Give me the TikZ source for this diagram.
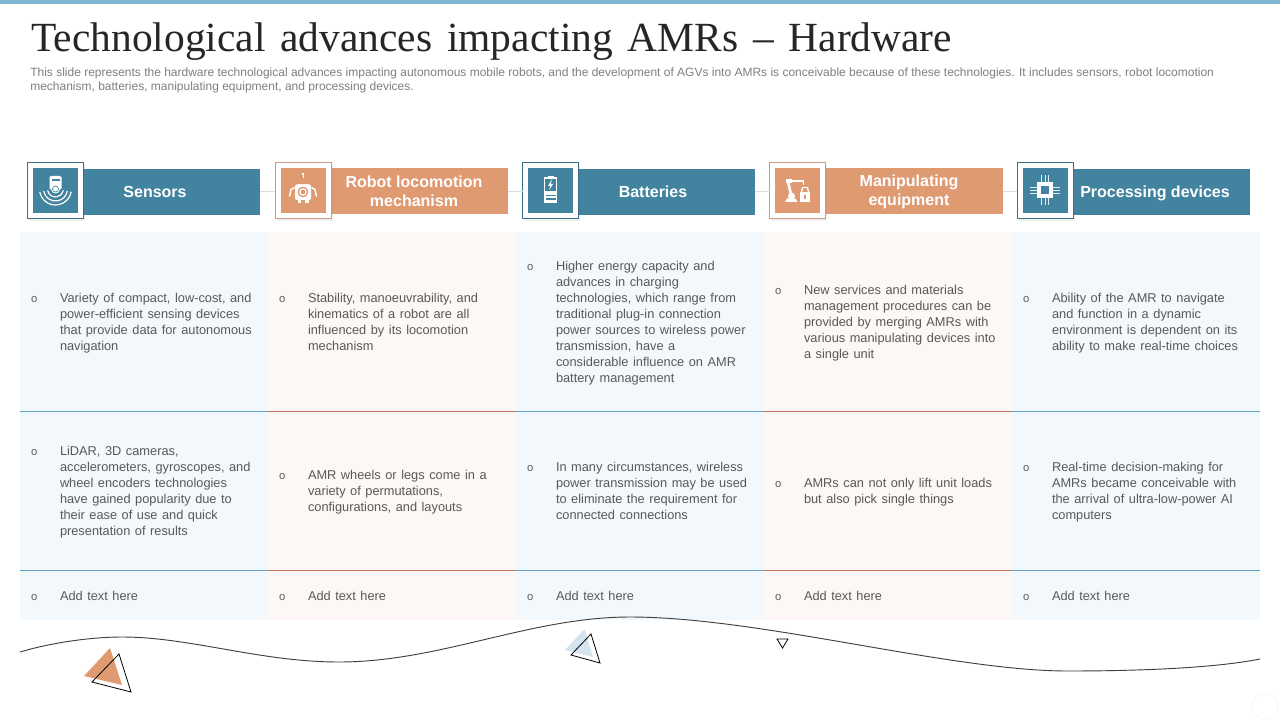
\documentclass[tikz,border=0pt]{standalone}
\usepackage{fontspec}
\setmainfont{Liberation Sans}
\newfontfamily\titlefont{Liberation Serif}
\newfontfamily\bulletfont{Liberation Mono}
\usetikzlibrary{shadows}
\definecolor{tealbar}{HTML}{42849F}
\definecolor{orangebar}{HTML}{E09A72}
\definecolor{cellblue}{HTML}{F2F8FB}
\definecolor{cellorange}{HTML}{FDF8F5}
\definecolor{ruleblue}{HTML}{64A6C6}
\definecolor{ruleorange}{HTML}{C4735A}
\definecolor{bodygray}{HTML}{595959}
\definecolor{descgray}{HTML}{7F7F7F}
\definecolor{linkgray}{HTML}{D8E0E3}
\definecolor{topbar}{HTML}{7DB7D1}
\definecolor{edgeblue}{HTML}{3F6F85}
\definecolor{edgeorange}{HTML}{CC9A80}
\definecolor{softblue}{HTML}{D3E4EC}
\newcommand{\cellfont}{\fontsize{9.6}{12}\selectfont\spaceskip 3.4pt\relax}
\tikzset{
 x=0.75pt,y=-0.75pt,
 barnode/.style={inner sep=0,outer sep=0,minimum height=34.5pt,text=white,align=center,font=\fontsize{12}{14.3}\selectfont\bfseries},
 iconframe/.style={draw,fill=white,line width=0.6pt,minimum width=42pt,minimum height=42.5pt,inner sep=0,outer sep=0,
   drop shadow={opacity=0.12,shadow xshift=1.2pt,shadow yshift=-1.8pt}},
 iconface/.style={inner sep=0,outer sep=0,minimum width=33.75pt,minimum height=33.75pt},
 bodytext/.style={inner sep=0,outer sep=0,text=bodygray,align=left,font=\cellfont},
 bulletmark/.style={anchor=base,inner sep=0,outer sep=0,text=bodygray,font=\bulletfont\fontsize{8.5}{12}\selectfont},
 linker/.style={draw=linkgray,line width=0.5pt},
 glyphline/.style={draw=white,line width=0.7pt},
}
% #1 name, #2 x, #3 first-line y centre, #4 lines
\newcommand{\bodycell}[4]{%
 \node[bulletmark] (#1b) at (#2-25.8,#3+5) {o};
 \node[bodytext,anchor=north west] (#1) at (#2,#3-4.2) {#4};
}
\begin{document}
\begin{tikzpicture}
\useasboundingbox (0,0) rectangle (1280,720);
\fill[white] (0,0) rectangle (1280,720);
\fill[topbar] (0,0) rectangle (1280,4);
\node[anchor=base west,inner sep=0,text=black!85,font=\titlefont\fontsize{31.1}{34}\selectfont] (title) at (31,51.5) {\spaceskip=11.1pt Technological advances impacting AMRs – Hardware};
\node[anchor=north west,inner sep=0,text=descgray,align=left,font=\fontsize{9}{10.5}\selectfont] (desc) at (30,68) {This slide represents the hardware technological advances impacting autonomous mobile robots, and the development of AGVs into AMRs is conceivable because of these technologies. It includes sensors, robot locomotion\\mechanism, batteries, manipulating equipment, and processing devices.};
% cells
\foreach \xa/\xb/\fc/\rc in {20/268/cellblue/ruleblue,268/516/cellorange/ruleorange,516/764/cellblue/ruleblue,764/1012/cellorange/ruleorange,1012/1260/cellblue/ruleblue}{
 \fill[\fc] (\xa,232) rectangle (\xb,620);
 \draw[\rc,line width=0.6pt] (\xa,411) -- (\xb,411);
 \draw[\rc,line width=0.6pt] (\xa,570) -- (\xb,570);
}
% header bars
\node[barnode,fill=tealbar,minimum width=132pt] (bar1) at (172,191.8) {};
\node[barnode,fill=orangebar,minimum width=133.5pt] (bar2) at (419,191) {};
\node[barnode,fill=tealbar,minimum width=132pt] (bar3) at (667,191.8) {};
\node[barnode,fill=orangebar,minimum width=133.5pt] (bar4) at (914,191) {};
\node[barnode,fill=tealbar,minimum width=132pt] (bar5) at (1162,191.8) {};
\node[iconframe,draw=edgeblue] (frame1) at (55.5,190.5) {};
\node[iconframe,draw=edgeorange] (frame2) at (303,190.5) {};
\node[iconframe,draw=edgeblue] (frame3) at (550.5,190.5) {};
\node[iconframe,draw=edgeorange] (frame4) at (797.5,190.5) {};
\node[iconframe,draw=edgeblue] (frame5) at (1045,190.5) {};
\node[iconface,fill=tealbar] (icon1) at (frame1) {};
\node[iconface,fill=orangebar] (icon2) at (frame2) {};
\node[iconface,fill=tealbar] (icon3) at (frame3) {};
\node[iconface,fill=orangebar] (icon4) at (frame4) {};
\node[iconface,fill=tealbar] (icon5) at (frame5) {};
\draw[linker] (bar1.east) -- (frame2.west |- bar1.east);
\draw[linker] (bar2.east) -- (frame3.west |- bar2.east);
\draw[linker] (bar3.east) -- (frame4.west |- bar3.east);
\draw[linker] (bar4.east) -- (frame5.west |- bar4.east);
\node[barnode] (lab1) at (155,192) {Sensors};
\node[barnode] (lab2) at (414,191.5) {Robot locomotion\\mechanism};
\node[barnode] (lab3) at (653,192) {Batteries};
\node[barnode] (lab4) at (909,192.2) {Manipulating\\equipment};
\node[barnode] (lab5) at (1155,193.8) {Processing devices};
% sensor icon
\begin{scope}[shift={(55.5,190.5)}]
 \fill[white,rounded corners=1pt] (-6,-14.5) rectangle (6,-1);
 \fill[tealbar] (-4,-11) rectangle (4,-9.4);
 \fill[white] (0,-1.5) circle (4.5);
 \draw[tealbar,line width=0.5pt] (0,-1.5) circle (3);
 \foreach \r in {8,12,16}{\draw[white,line width=0.9pt] ([shift={(170:\r)}]0,-1.5) arc[start angle=170,end angle=10,radius=\r];}
\end{scope}
% robot icon
\begin{scope}[shift={(303,190.5)}]
 \fill[white] (0,-16.5) circle (1.3);
 \draw[glyphline] (0,-16.5) -- (0,-12);
 \fill[white] (-5,-6) arc[start angle=180,end angle=0,radius=5] -- cycle;
 \fill[white,rounded corners=1pt] (-8,-6) rectangle (8,9.5);
 \fill[orangebar] (0,1.5) circle (5.4);
 \draw[white,line width=0.9pt] (0,1.5) circle (3.2);
 \fill[white] (-5.5,10) rectangle (-2,13);
 \fill[white] (2,10) rectangle (5.5,13);
 \draw[white,line width=1.1pt] (-8.5,-3) -- (-12,-1) -- (-13.5,6);
 \draw[white,line width=1.1pt] (8.5,-3) -- (12,-1) -- (13.5,6);
\end{scope}
% battery icon
\begin{scope}[shift={(550.5,190.5)}]
 \fill[white] (-3,-14.5) rectangle (3,-12.5);
 \draw[white,line width=0.9pt] (-6,-12.5) rectangle (6,1);
 \fill[white] (1.5,-11.5) -- (-2.5,-4.5) -- (-0.2,-4.5) -- (-1.3,-0.5) -- (2.5,-6.5) -- (0.2,-6.5) -- cycle;
 \fill[white] (-6.5,1.5) rectangle (6.5,13);
 \foreach \yy in {4.2,8}{\fill[tealbar] (-5,\yy) rectangle (5,\yy+1.1);}
\end{scope}
% manipulator icon
\begin{scope}[shift={(797.5,190.5)}]
 \draw[white,line width=2pt] (-9.5,-9) -- (-6,6);
 \draw[white,line width=1.6pt] (-11,-9.5) -- (6,-9.5);
 \fill[white] (-11.5,-11) rectangle (-6,-7);
 \draw[white,line width=0.9pt] (6,-9.5) -- (6,-5.5);
 \fill[white] (-12.5,11.5) -- (-10.5,8) -- (-2,8) -- (0,11.5) -- cycle;
 \fill[white] (-6,5.5) circle (3.5);
 \draw[white,line width=1pt] (4,1.5) -- (5,-3) -- (10,-3) -- (11,1.5);
 \fill[white] (2.5,1.5) rectangle (12.5,11.5);
 \fill[orangebar] (6.9,5) rectangle (8.1,8.5);
\end{scope}
% chip icon
\begin{scope}[shift={(1045,190.5)}]
 \foreach \d in {-3.2,0,3.2}{
  \draw[white!85!tealbar,line width=0.5pt] (\d,-15) -- (\d,15);
  \draw[white!85!tealbar,line width=0.5pt] (-15,\d) -- (15,\d);
 }
 \fill[white] (-8,-8) rectangle (8,8);
 \fill[tealbar] (-4,-4) rectangle (4,4);
\end{scope}
% body text
\bodycell{c11}{60}{297}{Variety of compact, low-cost, and\\power-efficient  sensing devices\\that provide  data for autonomous\\navigation}
\bodycell{c12}{308}{297}{Stability, manoeuvrability, and\\kinematics of a robot are all\\influenced by its locomotion\\mechanism}
\bodycell{c13}{556}{265}{Higher energy capacity and\\advances in charging\\technologies, which range from\\traditional plug-in connection\\power sources to wireless power\\transmission, have a\\considerable influence on AMR\\battery management}
\bodycell{c14}{804}{289}{New services and materials\\management procedures can be\\provided by merging AMRs with\\various manipulating devices into\\a single unit}
\bodycell{c15}{1052}{297}{Ability of the AMR to navigate\\and function in a dynamic\\environment is dependent on its\\ability to make real-time choices}
\bodycell{c21}{60}{450}{LiDAR, 3D cameras,\\accelerometers, gyroscopes, and\\wheel encoders technologies\\have gained popularity due to\\their ease of use and quick\\presentation of results}
\bodycell{c22}{308}{474}{AMR wheels or legs come in a\\variety of permutations,\\configurations, and layouts}
\bodycell{c23}{556}{466}{In many circumstances, wireless\\power transmission may be used\\to eliminate the requirement for\\connected connections}
\bodycell{c24}{804}{482}{AMRs can not only lift unit loads\\but also pick single things}
\bodycell{c25}{1052}{466}{Real-time decision-making for\\AMRs became conceivable with\\the arrival of ultra-low-power AI\\computers}
\bodycell{c31}{60}{595}{Add text here}
\bodycell{c32}{308}{595}{Add text here}
\bodycell{c33}{556}{595}{Add text here}
\bodycell{c34}{804}{595}{Add text here}
\bodycell{c35}{1052}{595}{Add text here}
% wave and triangles
\draw[black!75,line width=0.7pt] (20,652) .. controls (50,643) and (90,637) .. (122,637) .. controls (190,637) and (260,662) .. (339,662) .. controls (440,662) and (530,617) .. (630,617) .. controls (760,617) and (950,671) .. (1068,671) .. controls (1140,671) and (1215,668) .. (1260,659);
\fill[orangebar] (110,648) -- (84,676) -- (122,685) -- cycle;
\draw[black,line width=0.6pt] (119,654) -- (92,682) -- (131,692) -- cycle;
\fill[softblue] (584.5,629) -- (565,650) -- (593,657) -- cycle;
\draw[black,line width=0.6pt] (591,634) -- (571,655) -- (600,663) -- cycle;
\draw[black,line width=0.6pt] (777,639) -- (788,639) -- (782.5,648) -- cycle;
\draw[black!3,line width=0.5pt] (1265,706) circle (13);
\end{tikzpicture}
\end{document}
